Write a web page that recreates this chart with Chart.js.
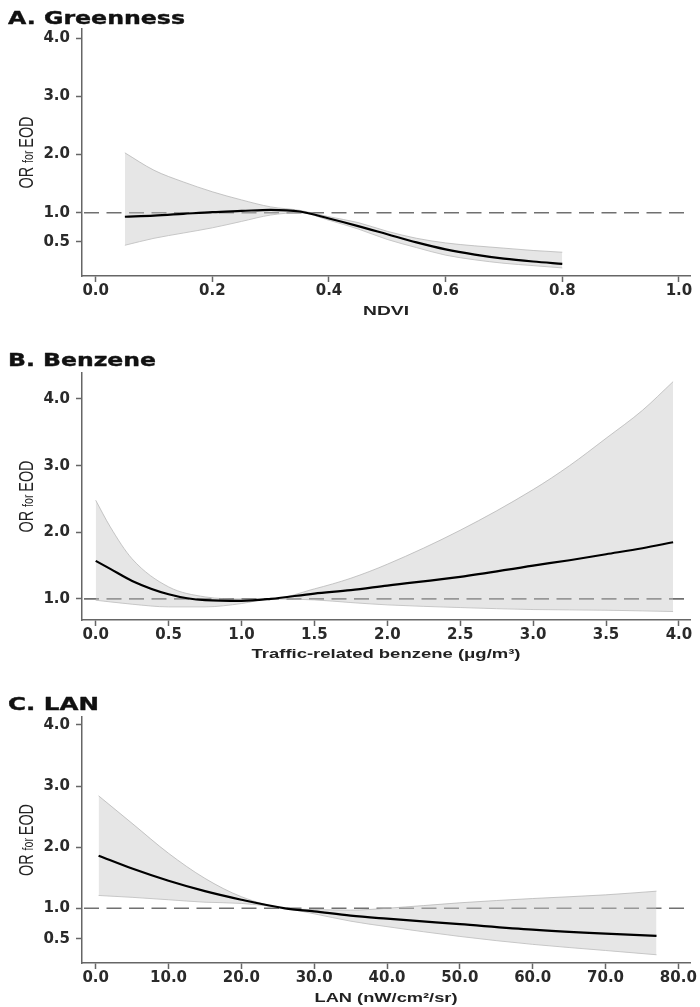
<!DOCTYPE html>
<html><head><meta charset="utf-8">
<script src="https://cdn.jsdelivr.net/npm/chart.js@4.4.1/dist/chart.umd.min.js"></script>
<style>
html,body{margin:0;padding:0;background:#fff;}
#wrap{position:relative;width:700px;height:1007px;overflow:hidden;}
.pane{position:absolute;left:0;width:700px;}
canvas{display:block;}
</style></head><body>
<div id="wrap">
<div class="pane" style="top:0;height:330px"><canvas id="cA" width="700" height="330"></canvas></div>
<div class="pane" style="top:330px;height:335px"><canvas id="cB" width="700" height="335"></canvas></div>
<div class="pane" style="top:665px;height:342px"><canvas id="cC" width="700" height="342"></canvas></div>
</div>
<script>
// ---- Panel A: Greenness ----
const ndviX     = [0.05, 0.10, 0.15, 0.20, 0.25, 0.30, 0.35, 0.40, 0.45, 0.50, 0.55, 0.60, 0.65, 0.70, 0.75, 0.80];
const ndviOR    = [0.93, 0.95, 0.98, 1.01, 1.03, 1.05, 1.02, 0.90, 0.77, 0.63, 0.49, 0.37, 0.28, 0.21, 0.16, 0.12];
const ndviUpper = [2.03, 1.73, 1.53, 1.36, 1.22, 1.10, 1.04, 0.93, 0.83, 0.68, 0.56, 0.48, 0.43, 0.39, 0.35, 0.32];
const ndviLower = [0.44, 0.56, 0.65, 0.74, 0.85, 0.96, 1.00, 0.87, 0.72, 0.54, 0.40, 0.27, 0.19, 0.13, 0.09, 0.05];
const ndviXTicks = [0.0, 0.2, 0.4, 0.6, 0.8, 1.0];
const ndviYTicks = [0.5, 1.0, 2.0, 3.0, 4.0];

// ---- Panel B: Benzene ----
const benX     = [0.00, 0.10, 0.25, 0.50, 0.75, 1.00, 1.20, 1.50, 1.75, 2.00, 2.50, 3.00, 3.25, 3.50, 3.75, 3.96];
const benOR    = [1.57, 1.45, 1.27, 1.07, 0.98, 0.97, 1.00, 1.08, 1.13, 1.20, 1.33, 1.50, 1.58, 1.67, 1.76, 1.85];
const benUpper = [2.48, 2.08, 1.60, 1.18, 1.03, 1.00, 1.00, 1.15, 1.31, 1.52, 2.03, 2.64, 3.00, 3.41, 3.83, 4.26];
const benLower = [0.98, 0.955, 0.92, 0.88, 0.88, 0.93, 1.00, 0.985, 0.945, 0.91, 0.87, 0.84, 0.835, 0.83, 0.82, 0.81];
const benXTicks = [0.0, 0.5, 1.0, 1.5, 2.0, 2.5, 3.0, 3.5, 4.0];
const benYTicks = [1.0, 2.0, 3.0, 4.0];

// ---- Panel C: LAN ----
const lanX     = [0.4, 5, 10, 15, 20, 26, 30, 35, 40, 50, 60, 70, 77];
const lanOR    = [1.86, 1.65, 1.45, 1.28, 1.14, 1.00, 0.95, 0.88, 0.83, 0.74, 0.65, 0.585, 0.55];
const lanUpper = [2.84, 2.39, 1.90, 1.49, 1.19, 1.00, 0.98, 0.97, 1.00, 1.09, 1.16, 1.22, 1.28];
const lanLower = [1.21, 1.18, 1.14, 1.10, 1.08, 1.00, 0.91, 0.79, 0.70, 0.54, 0.41, 0.31, 0.24];
const lanXTicks = [0, 10, 20, 30, 40, 50, 60, 70, 80];
const lanYTicks = [0.5, 1.0, 2.0, 3.0, 4.0];

const TEXT = '#222';
const AXIS = '#666';

function stretchText(ctx, text, x, y, font, targetW, align, color, strokeW) {
  ctx.save();
  ctx.font = font; ctx.fillStyle = color; ctx.textBaseline = 'alphabetic'; ctx.textAlign = 'left';
  const w = ctx.measureText(text).width;
  const s = targetW / w;
  const x0 = align === 'center' ? x - targetW / 2 : x;
  ctx.translate(x0, y); ctx.scale(s, 1);
  ctx.fillText(text, 0, 0);
  if (strokeW) { ctx.strokeStyle = color; ctx.lineWidth = strokeW; ctx.lineJoin = 'round'; ctx.strokeText(text, 0, 0); }
  ctx.restore();
}

function yTitle(ctx, baseX, cy, len) {
  const parts = [['OR ', 15], ['for ', 11], ['EOD', 15]];
  ctx.save();
  ctx.fillStyle = TEXT; ctx.textBaseline = 'alphabetic'; ctx.textAlign = 'left';
  let total = 0;
  const widths = parts.map(p => { ctx.font = p[1] + 'px "Liberation Sans"'; const w = ctx.measureText(p[0]).width; total += w; return w; });
  ctx.translate(baseX, cy);
  ctx.rotate(-Math.PI / 2);
  ctx.scale(len / total, 1.4);
  let x = -total / 2;
  parts.forEach((p, i) => { ctx.font = p[1] + 'px "Liberation Sans"'; ctx.fillText(p[0], x, 0); x += widths[i]; });
  ctx.restore();
}

const decor = {
  id: 'decor',
  beforeDatasetsDraw(chart) {
    const c = chart.ctx, a = chart.chartArea, y = chart.scales.y.getPixelForValue(1.0);
    c.save();
    c.strokeStyle = '#707070'; c.lineWidth = 1.6; c.setLineDash([15, 7.5]);
    c.beginPath(); c.moveTo(a.left + 2, y); c.lineTo(a.right, y); c.stroke();
    c.restore();
  },
  afterDraw(chart) {
    const o = chart.options.plugins.decor, c = chart.ctx, a = chart.chartArea;
    stretchText(c, o.title, 8, o.titleY, 'bold 18px "DejaVu Sans"', o.titleW, 'left', '#111', 0.4);
    stretchText(c, o.xlabel, o.xlabelX, o.xlabelY, 'bold 12px "Liberation Sans"', o.xlabelW, 'center', TEXT, 0);
    yTitle(c, 33, (a.top + a.bottom) / 2, o.ylabelLen);
  }
};

function makeChart(id, p) {
  const pts = arr => p.x.map((v, i) => ({ x: v, y: arr[i] }));
  const tickFont = { family: '"DejaVu Sans"', size: 15, weight: 'bold' };
  return new Chart(document.getElementById(id), {
    type: 'line',
    data: {
      datasets: [
        { data: pts(p.est), borderColor: '#000', borderWidth: 2.2, pointRadius: 0, fill: false, order: 0, cubicInterpolationMode: 'monotone' },
        { data: pts(p.upper), borderColor: 'rgba(175,175,175,0.7)', borderWidth: 1, pointRadius: 0, backgroundColor: 'rgba(200,200,200,0.45)', fill: '+1', order: 1, cubicInterpolationMode: 'monotone' },
        { data: pts(p.lower), borderColor: 'rgba(175,175,175,0.7)', borderWidth: 1, pointRadius: 0, fill: false, order: 2, cubicInterpolationMode: 'monotone' }
      ]
    },
    options: {
      responsive: false, animation: false, events: [],
      layout: { padding: { top: p.top, right: 10, left: 0, bottom: 0 } },
      plugins: { legend: { display: false }, tooltip: { enabled: false },
        decor: { title: p.title, titleY: p.titleY, titleW: p.titleW, xlabel: p.xlabel, xlabelX: 386, xlabelY: p.xlabelY, xlabelW: p.xlabelW, ylabelLen: 72 } },
      scales: {
        x: {
          type: 'linear', min: p.xmin, max: p.xmax,
          afterBuildTicks: s => { s.ticks = p.xticks.map(v => ({ value: v })); },
          afterFit: s => { s.height = p.xh; },
          ticks: { callback: v => Number(v).toFixed(1), font: tickFont, color: '#2a2a2a', padding: 0, maxRotation: 0, autoSkip: false },
          grid: { drawOnChartArea: false, tickLength: 6, tickColor: AXIS, tickWidth: 1.5 },
          border: { color: AXIS, width: 1.5 }
        },
        y: {
          type: 'linear', min: p.ymin, max: p.ymax,
          afterBuildTicks: s => { s.ticks = p.yticks.map(v => ({ value: v })); },
          afterFit: s => { s.width = 82; },
          ticks: { callback: v => Number(v).toFixed(1), font: tickFont, color: '#2a2a2a', padding: 6, autoSkip: false },
          grid: { drawOnChartArea: false, tickLength: 6, tickColor: AXIS, tickWidth: 1.5 },
          border: { color: AXIS, width: 1.5 }
        }
      }
    },
    plugins: [decor]
  });
}

makeChart('cA', { x: ndviX, est: ndviOR, upper: ndviUpper, lower: ndviLower, xticks: ndviXTicks, yticks: ndviYTicks,
  xmin: -0.0235, xmax: 1.019, ymin: -0.089, ymax: 4.16, top: 29, xh: 54,
  title: 'A. Greenness', titleY: 23.5, titleW: 177, xlabel: 'NDVI', xlabelY: 315, xlabelW: 46 });
makeChart('cB', { x: benX, est: benOR, upper: benUpper, lower: benLower, xticks: benXTicks, yticks: benYTicks,
  xmin: -0.094, xmax: 4.076, ymin: 0.683, ymax: 4.39, top: 43, xh: 45,
  title: 'B. Benzene', titleY: 36, titleW: 148, xlabel: 'Traffic-related benzene (\u03bcg/m\u00b3)', xlabelY: 328, xlabelW: 269 });
makeChart('cC', { x: lanX, est: lanOR, upper: lanUpper, lower: lanLower, xticks: lanXTicks, yticks: lanYTicks,
  xmin: -1.88, xmax: 81.6, ymin: 0.105, ymax: 4.13, top: 52, xh: 44,
  title: 'C. LAN', titleY: 45, titleW: 91, xlabel: 'LAN (nW/cm\u00b2/sr)', xlabelY: 337, xlabelW: 143 });
</script>
</body></html>
